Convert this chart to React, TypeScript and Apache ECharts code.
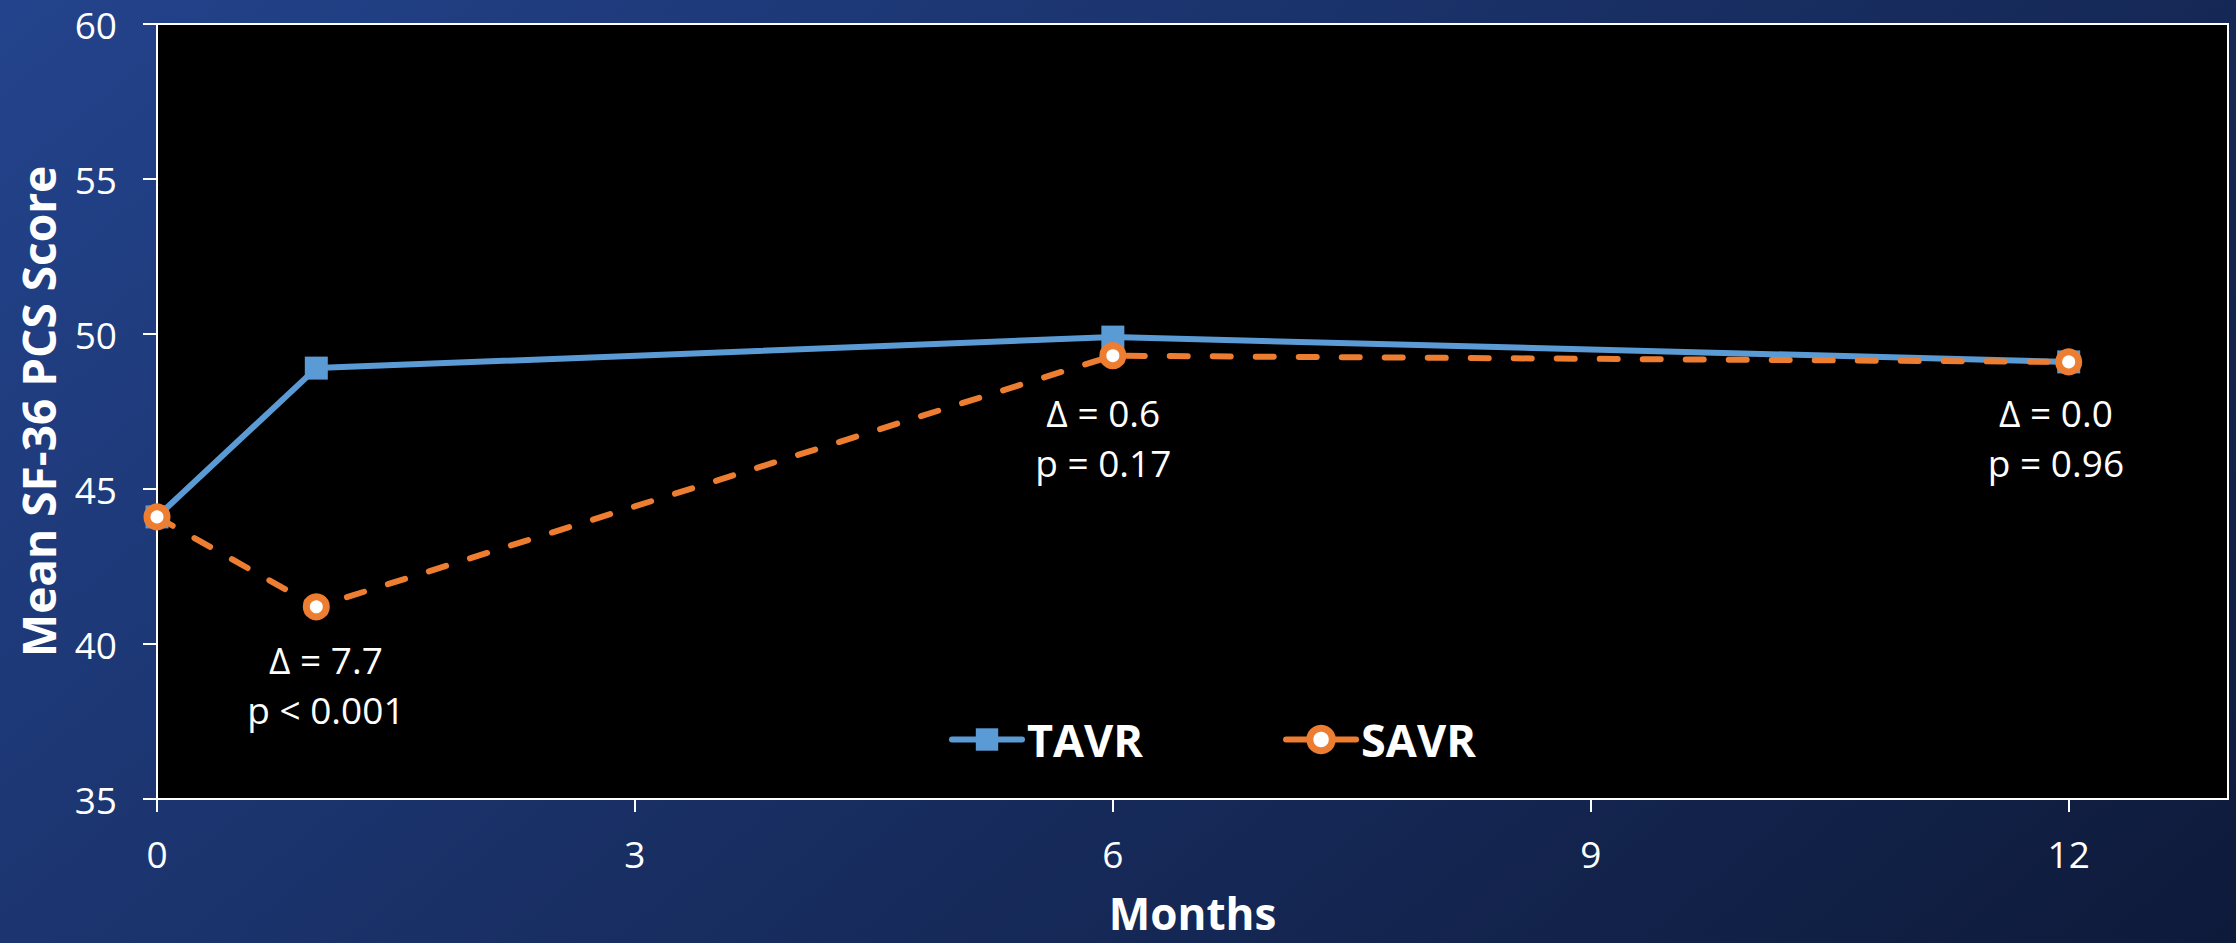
import React, { useEffect, useRef } from 'react';
import * as echarts from 'echarts';

const months = [0, 1, 6, 12];
const tavrScores = [44.1, 48.9, 49.9, 49.1];
const savrScores = [44.1, 41.2, 49.3, 49.1];
const xTickValues = [0, 3, 6, 9, 12];
const annotationX = [1.06, 5.94, 11.92];
const annotationY = [38.7, 46.65, 46.65];
const annotationText = ['Δ = 7.7\np < 0.001', 'Δ = 0.6\np = 0.17', 'Δ = 0.0\np = 0.96'];

const FONT = 'Open Sans';
const TAVR_COLOR = '#5B9BD5';
const SAVR_COLOR = '#ED7D31';

export default function App() {
  const ref = useRef<HTMLDivElement>(null);

  useEffect(() => {
    if (!ref.current) return;
    const chart = echarts.init(ref.current, undefined, { renderer: 'svg' });
    const option: any = {
      animation: false,
      backgroundColor: new echarts.graphic.LinearGradient(
        0, 0, 1394, 1653,
        [
          { offset: 0, color: '#23438C' },
          { offset: 1, color: '#0E1A3A' },
        ],
        true
      ),
      textStyle: { fontFamily: FONT },
      grid: {
        left: 157,
        right: 8,
        top: 24,
        bottom: 144,
        show: true,
        backgroundColor: '#000000',
        borderColor: '#ffffff',
        borderWidth: 2,
        outerBoundsMode: 'none',
      },
      legend: {
        data: [
          {
            name: 'TAVR',
            lineStyle: { color: TAVR_COLOR, width: 6, type: 'solid', cap: 'round' },
            itemStyle: { color: TAVR_COLOR, borderWidth: 0 },
          },
          {
            name: 'SAVR',
            lineStyle: { color: SAVR_COLOR, width: 6, type: 'solid', cap: 'round' },
            itemStyle: { color: '#ffffff', borderColor: SAVR_COLOR, borderWidth: 7 },
          },
        ],
        left: 944,
        top: 712,
        itemWidth: 70,
        itemHeight: 28,
        itemGap: 140,
        textStyle: { color: '#ffffff', fontSize: 45, fontWeight: 'bold', fontFamily: FONT },
      },
      xAxis: {
        type: 'value',
        min: 0,
        max: 13,
        interval: 3,
        name: 'Months',
        nameLocation: 'middle',
        nameGap: 94,
        nameTextStyle: { color: '#ffffff', fontSize: 44, fontWeight: 'bold', fontFamily: FONT, lineHeight: 40 },
        axisLine: { show: true, lineStyle: { color: '#ffffff', width: 2 } },
        axisTick: { show: true, length: 13, customValues: xTickValues, lineStyle: { color: '#ffffff', width: 2 } },
        axisLabel: { customValues: xTickValues, color: '#ffffff', fontSize: 37, margin: 36, fontFamily: FONT },
        splitLine: { show: false },
      },
      yAxis: {
        type: 'value',
        min: 35,
        max: 60,
        interval: 5,
        name: 'Mean SF-36 PCS Score',
        nameLocation: 'middle',
        nameGap: 96,
        nameTextStyle: { color: '#ffffff', fontSize: 46, fontWeight: 'bold', fontFamily: FONT },
        axisLine: { show: true, lineStyle: { color: '#ffffff', width: 2 } },
        axisTick: { show: true, length: 14, lineStyle: { color: '#ffffff', width: 2 } },
        axisLabel: { color: '#ffffff', fontSize: 37, margin: 40, fontFamily: FONT },
        splitLine: { show: false },
      },
      series: [
        {
          name: 'TAVR',
          type: 'line',
          data: months.map((m, i) => [m, tavrScores[i]]),
          symbol: 'rect',
          symbolSize: 23,
          z: 3,
          lineStyle: { color: TAVR_COLOR, width: 6 },
          itemStyle: { color: TAVR_COLOR },
        },
        {
          name: 'SAVR',
          type: 'line',
          data: months.map((m, i) => [m, savrScores[i]]),
          symbol: 'circle',
          symbolSize: 20,
          z: 4,
          lineStyle: { color: SAVR_COLOR, width: 6, type: [18, 25], cap: 'round' },
          itemStyle: { color: '#ffffff', borderColor: SAVR_COLOR, borderWidth: 7 },
        },
        {
          name: 'annotations',
          type: 'scatter',
          silent: true,
          symbolSize: 1,
          itemStyle: { color: 'rgba(0,0,0,0)', opacity: 1 },
          z: 5,
          data: annotationX.map((x, i) => ({ value: [x, annotationY[i]], name: annotationText[i] })),
          label: {
            show: true,
            position: 'inside',
            formatter: '{b}',
            color: '#ffffff',
            opacity: 1,
            textBorderWidth: 0,
            fontSize: 37,
            lineHeight: 50,
            align: 'center',
            fontFamily: FONT,
          },
        },
      ],
    };
    chart.setOption(option);
    return () => chart.dispose();
  }, []);

  return (
    <div
      ref={ref}
      style={{ position: 'absolute', left: 0, top: 0, width: 2236, height: 943 }}
    />
  );
}
